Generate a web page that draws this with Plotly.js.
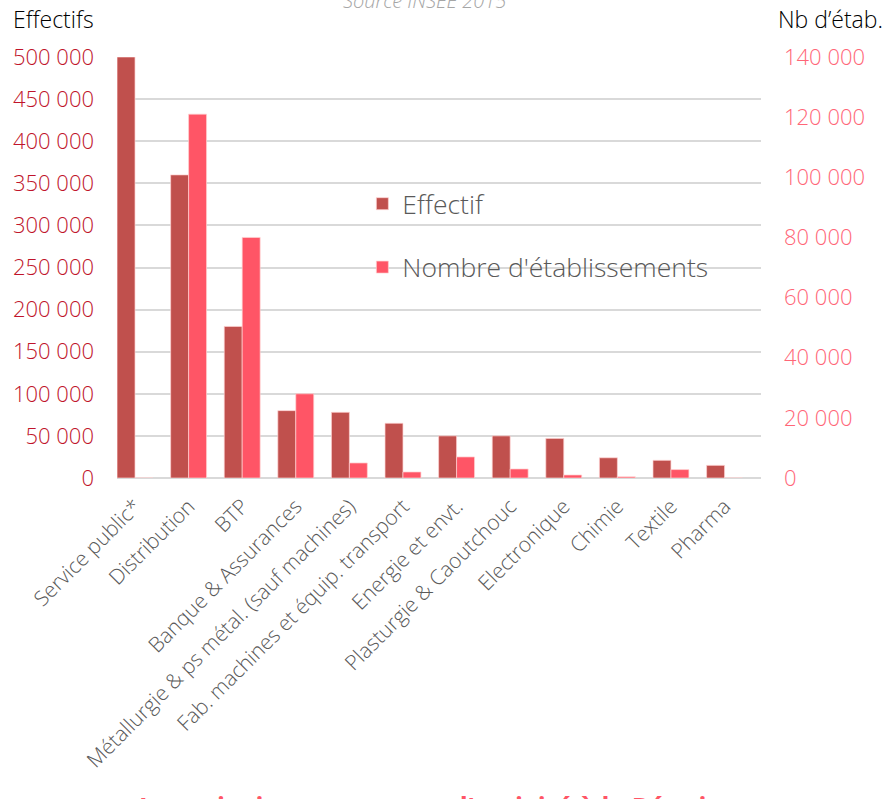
<!DOCTYPE html>
<html>
<head>
<meta charset="utf-8">
<script src="https://cdn.plot.ly/plotly-3.0.1.min.js"></script>
<style>html,body{margin:0;padding:0;background:#fff;}#chart{width:887px;height:799px;}</style>
</head>
<body>
<div id="chart"></div>
<script>
var categories = ["Service public*", "Distribution", "BTP", "Banque & Assurances",
  "Métallurgie & ps métal. (sauf machines)", "Fab. machines et équip. transport",
  "Energie et envt.", "Plasturgie & Caoutchouc", "Electronique", "Chimie", "Textile", "Pharma"];
var effectif = [500000, 360000, 180000, 80000, 78000, 65000, 50000, 50000, 47000, 24000, 21000, 15000];
var etablissements = [0, 121000, 80000, 28000, 5000, 2000, 7000, 3000, 1000, 400, 2800, 0];
var leftTicks = [0, 50000, 100000, 150000, 200000, 250000, 300000, 350000, 400000, 450000, 500000];
var rightTicks = [0, 20000, 40000, 60000, 80000, 100000, 120000, 140000];

var FONT = "Open Sans, sans-serif";

var traces = [
  {
    type: "bar", name: "Effectif", x: categories, y: effectif,
    yaxis: "y", offsetgroup: "1", legendgroup: "a",
    marker: {color: "#C0504D", line: {color: "rgba(255,210,210,0.7)", width: 1}},
    hoverinfo: "x+y"
  },
  {
    type: "bar", name: "Nombre d'établissements", x: categories, y: etablissements,
    yaxis: "y2", offsetgroup: "2", legendgroup: "b",
    marker: {color: "#FF5566", line: {color: "rgba(255,210,210,0.7)", width: 1}},
    hoverinfo: "x+y"
  }
];

var layout = {
  width: 887, height: 799,
  margin: {l: 117, r: 126, t: 57, b: 321, pad: 0},
  paper_bgcolor: "#fff", plot_bgcolor: "#fff",
  separators: ", ",
  font: {family: FONT, color: "#595959"},
  barmode: "group", bargap: 0.33, bargroupgap: 0,
  showlegend: true,
  legend: {
    x: 0.381, y: 0.708, xanchor: "left", yanchor: "top",
    font: {family: FONT, size: 26.5, color: "#595959", weight: 300},
    traceorder: "grouped", tracegroupgap: 26,
    bgcolor: "rgba(0,0,0,0)", itemwidth: 30
  },
  xaxis: {
    type: "category", range: [-0.336, 11.68],
    tickangle: -45, tickfont: {family: FONT, size: 21, color: "#595959", weight: 300},
    showgrid: false, showline: false, zeroline: false, ticks: "",
    ticklabelstandoff: 11
  },
  yaxis: {
    range: [0, 500000], tickvals: leftTicks, tickformat: ",d",
    tickfont: {family: FONT, size: 22, color: "#C0142B", weight: 300},
    showgrid: true, gridcolor: "#D9D9D9", gridwidth: 2,
    zeroline: true, zerolinecolor: "#D9D9D9", zerolinewidth: 2,
    showline: false, ticks: "", ticklabelstandoff: 22
  },
  yaxis2: {
    overlaying: "y", side: "right",
    range: [0, 140000], tickvals: rightTicks, tickformat: ",d",
    tickfont: {family: FONT, size: 22, color: "#FF6677", weight: 300},
    showgrid: false, zeroline: false, showline: false, ticks: "",
    ticklabelstandoff: 22
  },
  annotations: [
    {text: "Effectifs", xref: "paper", yref: "paper", x: -0.165, y: 1.090,
     xanchor: "left", yanchor: "middle", showarrow: false,
     font: {family: FONT, size: 23, color: "#000000", weight: 300}},
    {text: "Nb d’étab.", xref: "paper", yref: "paper", x: 1.1925, y: 1.090,
     xanchor: "right", yanchor: "middle", showarrow: false,
     font: {family: FONT, size: 23, color: "#000000", weight: 300}},
    {text: "<i>Source INSEE 2015</i>", xref: "paper", yref: "paper", x: 0.478, y: 1.134,
     xanchor: "center", yanchor: "middle", showarrow: false,
     font: {family: FONT, size: 20, color: "#A6A6A6", weight: 300}},
    {text: "<b>Les principaux secteurs d'activité à la Réunion</b>", xref: "paper", yref: "paper",
     x: 0.5, y: -0.734, xanchor: "center", yanchor: "top", showarrow: false,
     font: {family: FONT, size: 26, color: "#FF5566"}}
  ]
};

Plotly.newPlot("chart", traces, layout, {displayModeBar: false, responsive: false});
</script>
</body>
</html>
